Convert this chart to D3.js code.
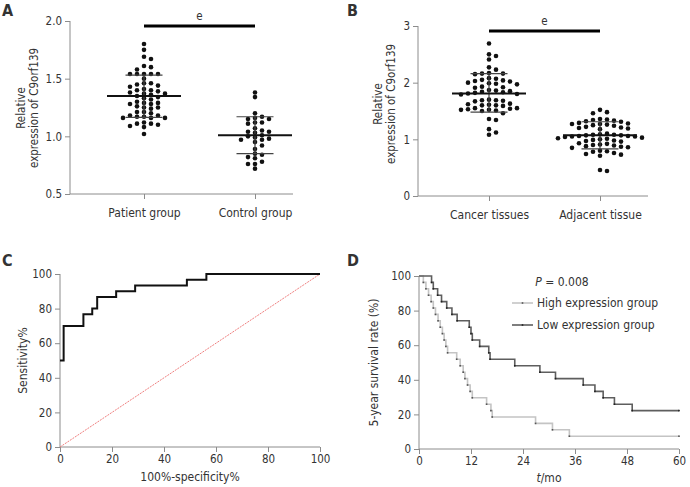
<!DOCTYPE html>
<html>
<head>
<meta charset="utf-8">
<script src="https://cdnjs.cloudflare.com/ajax/libs/d3/7.8.5/d3.min.js"></script>
<style>
  body { margin: 0; background: #fff; }
  text { font-family: "DejaVu Sans Condensed", "DejaVu Sans", Verdana, sans-serif; font-stretch: condensed; fill: #333; }
</style>
</head>
<body>
<script>
// ---- data ----
var groupsA = ["Patient group", "Control group"];
var patientVals = [1.80,1.75,1.69,1.67,1.61,1.60,1.58,1.54,1.54,1.54,1.54,1.54,1.50,1.46,1.46,1.45,1.44,1.43,1.41,1.40,1.40,1.39,1.38,1.37,1.37,1.36,1.35,1.34,1.33,1.32,1.30,1.29,1.29,1.28,1.28,1.26,1.25,1.25,1.24,1.21,1.21,1.20,1.18,1.18,1.17,1.17,1.16,1.16,1.16,1.12,1.11,1.11,1.10,1.09,1.08,1.02];
var controlVals = [1.38,1.34,1.20,1.17,1.16,1.15,1.15,1.12,1.12,1.11,1.07,1.05,1.04,1.04,1.03,1.01,1.00,0.99,0.98,0.97,0.97,0.95,0.92,0.89,0.85,0.84,0.82,0.81,0.78,0.76,0.76,0.72];
var statsA = [{mean: 1.35, lo: 1.165, hi: 1.53}, {mean: 1.01, lo: 0.85, hi: 1.17}];

var groupsB = ["Cancer tissues", "Adjacent tissue"];
var cancerVals = [2.69,2.50,2.47,2.41,2.27,2.23,2.17,2.16,2.16,2.15,2.08,2.07,2.05,2.04,2.03,2.02,2.00,1.99,1.98,1.97,1.93,1.92,1.91,1.87,1.86,1.85,1.84,1.83,1.82,1.81,1.80,1.79,1.70,1.69,1.69,1.68,1.67,1.63,1.62,1.61,1.60,1.60,1.59,1.55,1.55,1.54,1.53,1.52,1.52,1.51,1.50,1.46,1.36,1.34,1.18,1.12,1.08];
var adjacentVals = [1.52,1.48,1.46,1.36,1.35,1.34,1.33,1.32,1.31,1.29,1.28,1.27,1.27,1.26,1.25,1.24,1.22,1.21,1.20,1.19,1.18,1.10,1.09,1.08,1.08,1.07,1.07,1.06,1.06,1.05,1.05,1.04,1.03,1.02,1.01,1.00,0.99,0.98,0.97,0.96,0.93,0.92,0.91,0.90,0.89,0.88,0.87,0.86,0.85,0.80,0.79,0.78,0.76,0.74,0.73,0.71,0.46,0.44];
var statsB = [{mean: 1.81, lo: 1.48, hi: 2.16}, {mean: 1.07, lo: 0.83, hi: 1.31}];

var rocFpr = [0, 1.4, 9.0, 12.4, 14.3, 21.6, 28.9, 48.8, 56.3, 100];
var rocTpr = [50, 70, 76.7, 80, 86.7, 90, 93.3, 96.7, 100, 100];

var lowT = [0,2.9,3.3,4.3,5.2,6.4,7.6,8.8,11.6,12.0,12.3,14.0,16.1,16.4,22.1,27.9,31.5,37.9,40.6,42.5,45.1,49.2,60];
var lowS = [100,96.3,92.6,88.9,85.2,81.5,77.8,74.1,70.4,66.7,63.0,59.3,55.6,51.9,48.1,44.4,40.7,37.0,33.3,29.6,25.9,22.2,22.2];
var highT = [0,1.0,1.6,2.2,2.8,3.3,3.8,4.4,4.9,5.4,5.8,6.2,6.6,8.7,9.5,10.2,10.6,11.2,11.8,12.3,15.6,16.6,16.9,26.9,30.8,34.7,60];
var highS = [100,96.3,92.6,88.9,85.2,81.5,77.8,74.1,70.4,66.7,63.0,59.3,55.6,51.9,48.1,44.4,40.7,37.0,33.3,29.6,25.9,22.2,18.5,14.8,11.1,7.4,7.4];

var svg = d3.select("body").append("svg")
  .attr("width", 690)
  .attr("height", 487);

var axisColor = "#8c8c8c";

function styleAxis(g) {
  g.selectAll(".domain").remove();
  g.selectAll(".tick line").attr("stroke", axisColor);
  g.selectAll(".tick text").style("font-size", "11.5px").attr("fill", "#333");
}

function panelLetter(x, y, s) {
  svg.append("text").attr("x", x).attr("y", y)
    .style("font-size", "16px").style("font-weight", "bold")
    .attr("fill", "#111").text(s);
}

// simple beeswarm: place each dot in nearest free column
function swarm(vals, y, step, minDy) {
  var placed = [];
  vals.slice().sort(function (a, b) { return b - a; }).forEach(function (v) {
    var py = y(v);
    for (var k = 0; k < 40; k++) {
      var col = k === 0 ? 0 : (k % 2 ? (k + 1) / 2 : -k / 2);
      var clash = placed.some(function (p) { return p.col === col && Math.abs(p.py - py) < minDy; });
      if (!clash) { placed.push({v: v, py: py, col: col}); break; }
    }
  });
  return placed.map(function (p) { return {py: p.py, dx: p.col * step}; });
}

function dotPanel(cfg) {
  var y = d3.scaleLinear().domain(cfg.yDomain).range([cfg.bottom, cfg.top]);
  var x = d3.scalePoint().domain(cfg.groups).range(cfg.xRange);
  var g = svg.append("g");

  // axes lines
  g.append("line").attr("x1", cfg.left).attr("x2", cfg.left)
    .attr("y1", cfg.top).attr("y2", cfg.bottom).attr("stroke", axisColor);
  g.append("line").attr("x1", cfg.left).attr("x2", cfg.right)
    .attr("y1", cfg.bottom).attr("y2", cfg.bottom).attr("stroke", axisColor);

  var ya = g.append("g").attr("transform", "translate(" + cfg.left + ",0)")
    .call(d3.axisLeft(y).tickValues(cfg.yTicks).tickFormat(cfg.yFormat).tickSize(5).tickPadding(3));
  styleAxis(ya);
  var xa = g.append("g").attr("transform", "translate(0," + cfg.bottom + ")")
    .call(d3.axisBottom(x).tickSize(5).tickPadding(9));
  styleAxis(xa);
  xa.selectAll(".tick text").style("font-size", "12px");

  // y title
  var tx = g.append("text").attr("transform", "translate(" + cfg.titleX + "," + cfg.titleY + ") rotate(-90)")
    .attr("text-anchor", "middle").style("font-size", "11.5px");
  tx.append("tspan").attr("x", 0).attr("dy", 0).text("Relative");
  tx.append("tspan").attr("x", 0).attr("dy", 12.5).text("expression of C9orf139");

  cfg.series.forEach(function (vals, i) {
    var cx = x(cfg.groups[i]);
    var st = cfg.stats[i];
    g.selectAll(null).data(swarm(vals, y, cfg.step, 4.6)).enter().append("circle")
      .attr("cx", function (d) { return cx + d.dx; })
      .attr("cy", function (d) { return d.py; })
      .attr("r", 2.3).attr("fill", "#111");
    // SD bar
    g.append("line").attr("x1", cx).attr("x2", cx).attr("y1", y(st.lo)).attr("y2", y(st.hi))
      .attr("stroke", "#444").attr("stroke-width", 1.2);
    [st.lo, st.hi].forEach(function (v) {
      g.append("line").attr("x1", cx - 18.5).attr("x2", cx + 18.5).attr("y1", y(v)).attr("y2", y(v))
        .attr("stroke", "#444").attr("stroke-width", 1.2);
    });
    g.append("line").attr("x1", cx - 37).attr("x2", cx + 37).attr("y1", y(st.mean)).attr("y2", y(st.mean))
      .attr("stroke", "#111").attr("stroke-width", 2);
  });

  // significance bar
  var x0 = x(cfg.groups[0]), x1 = x(cfg.groups[1]);
  g.append("line").attr("x1", x0).attr("x2", x1).attr("y1", cfg.sigY).attr("y2", cfg.sigY)
    .attr("stroke", "#000").attr("stroke-width", 3);
  g.append("text").attr("x", (x0 + x1) / 2).attr("y", cfg.sigY - 6)
    .attr("text-anchor", "middle").style("font-size", "11.5px").text("e");
}

// ---- A ----
panelLetter(2, 16, "A");
dotPanel({
  groups: groupsA, series: [patientVals, controlVals], stats: statsA,
  yDomain: [0.5, 2.0], yTicks: [0.5, 1.0, 1.5, 2.0], yFormat: d3.format(".1f"),
  left: 70, right: 293, top: 21, bottom: 194, xRange: [144, 255],
  titleX: 25, titleY: 108, step: 7, sigY: 26
});

// ---- B ----
panelLetter(347, 16, "B");
dotPanel({
  groups: groupsB, series: [cancerVals, adjacentVals], stats: statsB,
  yDomain: [0, 3], yTicks: [0, 1, 2, 3], yFormat: d3.format("d"),
  left: 418, right: 648, top: 26, bottom: 196, xRange: [489, 600],
  titleX: 382, titleY: 104, step: 7, sigY: 31
});

// ---- C: ROC ----
panelLetter(2, 266, "C");
(function () {
  var L = 60, R = 320, T = 274, B = 447;
  var x = d3.scaleLinear().domain([0, 100]).range([L, R]);
  var y = d3.scaleLinear().domain([0, 100]).range([B, T]);
  var g = svg.append("g");
  g.append("line").attr("x1", L).attr("x2", L).attr("y1", T).attr("y2", B).attr("stroke", axisColor);
  g.append("line").attr("x1", L).attr("x2", R).attr("y1", B).attr("y2", B).attr("stroke", axisColor);
  styleAxis(g.append("g").attr("transform", "translate(" + L + ",0)")
    .call(d3.axisLeft(y).tickValues([0, 20, 40, 60, 80, 100]).tickSize(5).tickPadding(3)));
  styleAxis(g.append("g").attr("transform", "translate(0," + B + ")")
    .call(d3.axisBottom(x).tickValues([0, 20, 40, 60, 80, 100]).tickSize(5).tickPadding(3)));

  g.append("line").attr("x1", x(0)).attr("y1", y(0)).attr("x2", x(100)).attr("y2", y(100))
    .attr("stroke", "#f08080").attr("stroke-width", 1).attr("stroke-dasharray", "2,1");

  var line = d3.line().curve(d3.curveStepAfter)
    .x(function (d, i) { return x(rocFpr[i]); })
    .y(function (d) { return y(d); });
  g.append("path").attr("d", line(rocTpr)).attr("fill", "none")
    .attr("stroke", "#111").attr("stroke-width", 2);

  g.append("text").attr("x", (L + R) / 2).attr("y", 481).attr("text-anchor", "middle")
    .style("font-size", "12px").text("100%-specificity%");
  g.append("text").attr("transform", "translate(27," + (T + B) / 2 + ") rotate(-90)")
    .attr("text-anchor", "middle").style("font-size", "12px").text("Sensitivity%");
})();

// ---- D: survival ----
panelLetter(347, 266, "D");
(function () {
  var L = 419, R = 679, T = 276, B = 449;
  var x = d3.scaleLinear().domain([0, 60]).range([L, R]);
  var y = d3.scaleLinear().domain([0, 100]).range([B, T]);
  var g = svg.append("g");
  g.append("line").attr("x1", L).attr("x2", L).attr("y1", T).attr("y2", B).attr("stroke", axisColor);
  g.append("line").attr("x1", L).attr("x2", R).attr("y1", B).attr("y2", B).attr("stroke", axisColor);
  styleAxis(g.append("g").attr("transform", "translate(" + L + ",0)")
    .call(d3.axisLeft(y).tickValues([0, 20, 40, 60, 80, 100]).tickSize(5).tickPadding(3)));
  styleAxis(g.append("g").attr("transform", "translate(0," + B + ")")
    .call(d3.axisBottom(x).tickValues([0, 12, 24, 36, 48, 60]).tickSize(5).tickPadding(3)));

  var curves = [
    {t: highT, s: highS, color: "#c4c4c4", mark: "#555"},
    {t: lowT, s: lowS, color: "#5e5e5e", mark: "#222"}
  ];
  curves.forEach(function (c) {
    var line = d3.line().curve(d3.curveStepAfter)
      .x(function (d, i) { return x(c.t[i]); })
      .y(function (d) { return y(d); });
    g.append("path").attr("d", line(c.s)).attr("fill", "none")
      .attr("stroke", c.color).attr("stroke-width", 1.6);
    var marks = c.t.map(function (t, i) { return {t: t, s: c.s[i]}; }).slice(1);
    g.selectAll(null).data(marks).enter().append("rect")
      .attr("x", function (d) { return x(d.t) - 0.8; })
      .attr("y", function (d) { return y(d.s) - 0.8; })
      .attr("width", 1.6).attr("height", 1.6).attr("fill", c.mark);
  });

  // legend
  var p = g.append("text").attr("x", 562).attr("y", 286).attr("text-anchor", "middle")
    .style("font-size", "12px");
  p.append("tspan").style("font-style", "italic").text("P");
  p.append("tspan").text(" = 0.008");
  [{label: "High expression group", c: curves[0], y: 303},
   {label: "Low expression group", c: curves[1], y: 325}].forEach(function (d) {
    g.append("line").attr("x1", 512).attr("x2", 533).attr("y1", d.y).attr("y2", d.y)
      .attr("stroke", d.c.color).attr("stroke-width", 1.6);
    g.append("rect").attr("x", 521.7).attr("y", d.y - 0.8).attr("width", 1.6).attr("height", 1.6)
      .attr("fill", d.c.mark);
    g.append("text").attr("x", 537).attr("y", d.y + 4).style("font-size", "12px").text(d.label);
  });

  var xt = g.append("text").attr("x", (L + R) / 2).attr("y", 482).attr("text-anchor", "middle")
    .style("font-size", "12px");
  xt.append("tspan").style("font-style", "italic").text("t");
  xt.append("tspan").text("/mo");
  g.append("text").attr("transform", "translate(378," + (T + B) / 2 + ") rotate(-90)")
    .attr("text-anchor", "middle").style("font-size", "12px").text("5-year survival rate (%)");
})();
</script>
</body>
</html>
